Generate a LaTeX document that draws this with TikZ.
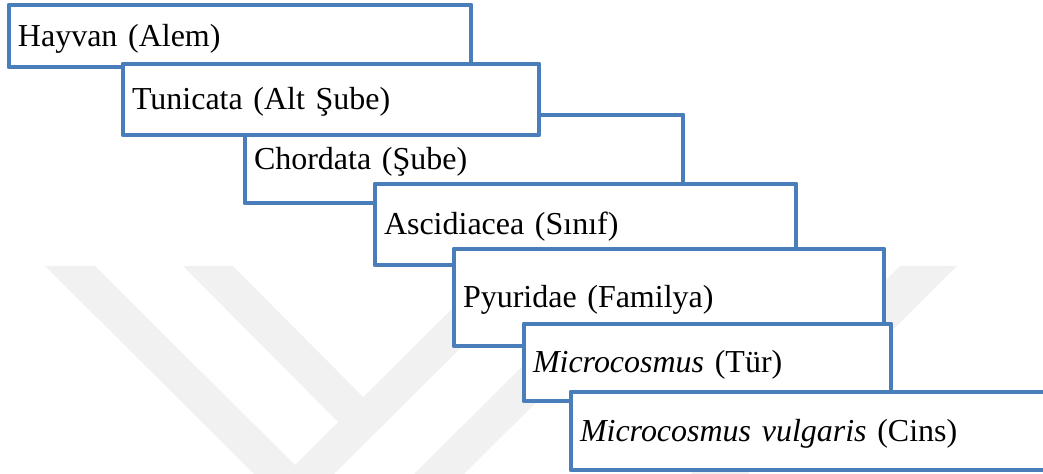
\documentclass[tikz,border=0pt]{standalone}
\usepackage{fontspec}
\setmainfont{Liberation Serif}
\usepackage{tikz}
\definecolor{taxonblue}{RGB}{74,126,187}
\definecolor{markgray}{RGB}{241,241,241}
\tikzset{
    taxon/.style={rectangle, draw=taxonblue, line width=1.4pt, line join=round, fill=white, anchor=north west, align=left, inner xsep=0.09cm, inner ysep=0pt, outer sep=0pt, text height=6.8pt, text depth=1.1pt, font=\fontsize{9.1}{11}\selectfont},
    wmark/.style={fill=markgray, draw=none}
}

\begin{document}
\begin{tikzpicture}
        \useasboundingbox (0,0) rectangle (10.43,4.74);

        % Watermark
        \begin{scope}
            \clip (0,0) rectangle (10.43,4.74);
            \foreach \xa/\xb/\xc/\xd in {0.45/0.95/3.10/2.60, 4.95/5.43/3.28/2.80, 6.23/6.73/4.58/4.08, 9.00/9.57/7.42/6.85} {
                \fill[wmark] (\xa,2.08) -- (\xb,2.08) -- (\xc,-0.06) -- (\xd,-0.06) -- cycle;
            }
            \fill[wmark] (1.83,2.08) -- (2.33,2.08) -- (3.73,0.67) -- (3.48,0.42) -- cycle;
        \end{scope}

        % Taxonomy boxes
        \node[taxon, text width=4.44cm, minimum height=0.62cm] (alem) at (0.09,4.69) {Hayvan (Alem)};
        \node[taxon, text width=4.20cm, minimum height=0.88cm] (sube) at (2.45,3.59) {Chordata (Şube)};
        \node[taxon, text width=3.98cm, minimum height=0.71cm] (altsube) at (1.23,4.10) {Tunicata (Alt Şube)};
        \node[taxon, text width=4.03cm, minimum height=0.81cm] (sinif) at (3.75,2.90) {Ascidiacea (Sınıf)};
        \node[taxon, text width=4.12cm, minimum height=0.97cm] (familya) at (4.54,2.25) {Pyuridae (Familya)};
        \node[taxon, text width=3.49cm, minimum height=0.77cm] (tur) at (5.24,1.50) {\textit{Microcosmus} (Tür)};
        \node[taxon, text width=4.61cm, minimum height=0.78cm] (cins) at (5.71,0.82) {\textit{Microcosmus vulgaris} (Cins)};
    \end{tikzpicture}
\end{document}
